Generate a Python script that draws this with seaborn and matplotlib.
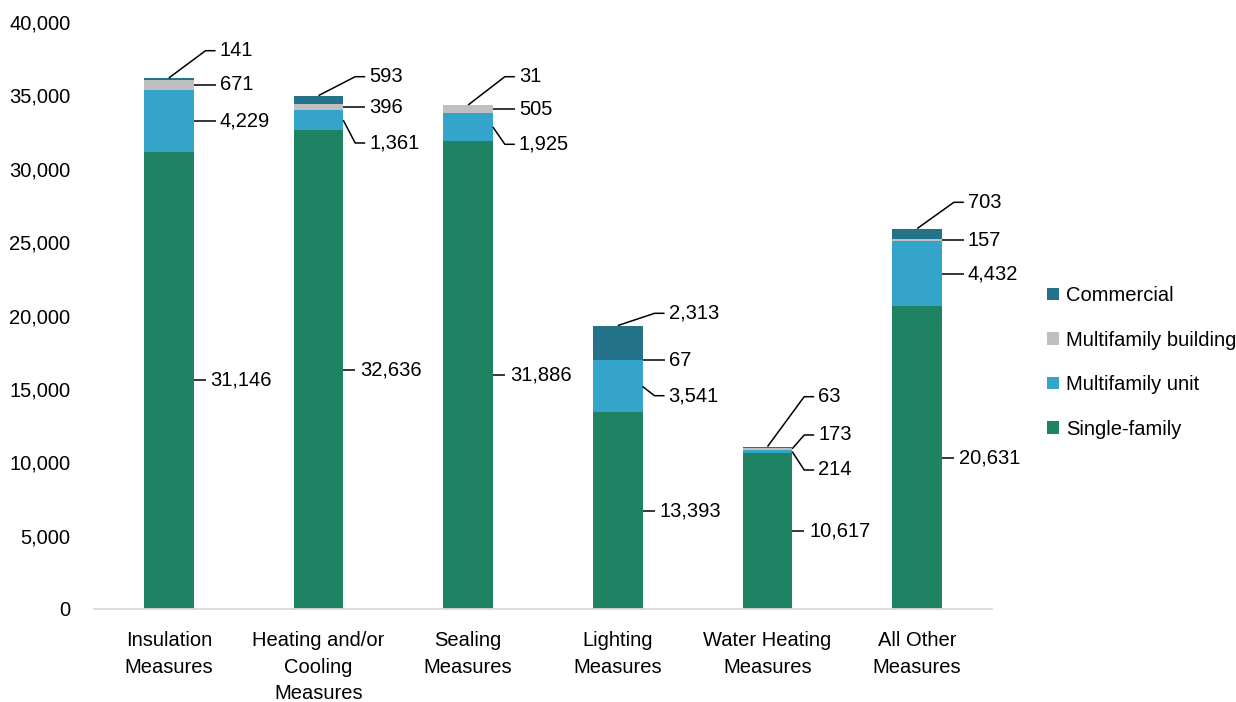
import matplotlib
matplotlib.use("Agg")
import matplotlib.pyplot as plt
from matplotlib.patches import Patch
from matplotlib.ticker import FuncFormatter, MultipleLocator
import seaborn as sns
import pandas as pd
import numpy as np

# ---- data ----
categories = ["Insulation\nMeasures", "Heating and/or\nCooling\nMeasures", "Sealing\nMeasures",
              "Lighting\nMeasures", "Water Heating\nMeasures", "All Other\nMeasures"]
single_family = [31146, 32636, 31886, 13393, 10617, 20631]
multifamily_unit = [4229, 1361, 1925, 3541, 214, 4432]
multifamily_building = [671, 396, 505, 67, 173, 157]
commercial = [141, 593, 31, 2313, 63, 703]

series_names = ["Single-family", "Multifamily unit", "Multifamily building", "Commercial"]
series_values = [single_family, multifamily_unit, multifamily_building, commercial]
colors = ["#1F8263", "#35A4CA", "#BFBFBF", "#24718A"]

# callout text heights (data units) for each series, bottom to top; None = segment middle
callout_y = [
    [None, None, None, None, None, None],
    [None, 31755, 31666, 14535, 9472, None],
    [None, None, None, None, 11857, None],
    [38044, 36273, 36273, 20150, 14467, 27714],
]

sns.set_theme(style="white")
plt.rcParams["font.family"] = ["Liberation Sans", "DejaVu Sans"]
plt.rcParams["text.color"] = "black"
FS = 14.5

W, H = 1236, 702
fig = plt.figure(figsize=(W / 100, H / 100), dpi=100)
ax = fig.add_axes([94 / W, 1 - 609 / H, (992 - 94) / W, (609 - 22) / H])

df = pd.DataFrame({"category": categories})
cum = np.zeros(len(categories))
cums = []
for vals in series_values:
    cum = cum + np.array(vals)
    cums.append(cum.copy())

# stacked bars: draw cumulative totals from the top layer down
bar_w = 0.33
for i in range(len(series_values) - 1, -1, -1):
    df["total"] = cums[i]
    sns.barplot(data=df, x="category", y="total", color=colors[i], width=bar_w,
                saturation=1, linewidth=0, ax=ax, errorbar=None)

ax.set_xlim(-0.5, len(categories) - 0.5)
ax.set_ylim(0, 40000)
ax.yaxis.set_major_locator(MultipleLocator(5000))
ax.yaxis.set_major_formatter(FuncFormatter(lambda v, p: f"{int(v):,}"))
ax.set_xlabel("")
ax.set_ylabel("")
ax.tick_params(axis="y", length=0, pad=17, labelsize=FS, colors="#000000")
ax.tick_params(axis="x", length=0, pad=16, labelsize=FS, colors="#000000")
for lab in ax.get_xticklabels():
    lab.set_linespacing(1.5)
for s in ["top", "right", "left"]:
    ax.spines[s].set_visible(False)
ax.spines["bottom"].set_color("#D9D9D9")
ax.spines["bottom"].set_linewidth(1.3)
ax.grid(False)

# ---- callouts ----
px = (len(categories)) / (992 - 94)  # data-x units per pixel
elbow, end, gap = 12 * px, 22 * px, 4 * px
for i, vals in enumerate(series_values):
    lower = cums[i] - np.array(vals)
    for j, v in enumerate(vals):
        right = j + bar_w / 2
        ty = callout_y[i][j]
        if i == len(series_values) - 1:
            ax0, ay0 = j, cums[i][j]
        else:
            ax0, ay0 = right, lower[j] + v / 2
        if i == 0:
            # base segment: short straight tick at its middle
            ty = ay0
            xs, ys = [right, right + 12 * px], [ty, ty]
            tx = right + 17 * px
        else:
            if ty is None:
                ty = ay0
            xs, ys = [ax0, right + elbow, right + end], [ay0, ty, ty]
            tx = right + end + gap
        ax.plot(xs, ys, color="black", lw=1.1, solid_capstyle="butt", clip_on=False)
        ax.text(tx, ty, f"{v:,}", fontsize=FS, va="center", ha="left", color="black")

# ---- legend ----
handles = [Patch(facecolor=colors[i], edgecolor="none", label=series_names[i])
           for i in range(len(series_names) - 1, -1, -1)]
leg = fig.legend(handles=handles, loc="upper left", bbox_to_anchor=(1047 / W, 1 - 286 / H),
                 frameon=False, fontsize=FS, handlelength=0.6, handleheight=0.6,
                 handletextpad=0.35, labelspacing=1.27, borderaxespad=0, borderpad=0)
for t in leg.get_texts():
    t.set_color("black")

fig.savefig("out.png", dpi=100)
